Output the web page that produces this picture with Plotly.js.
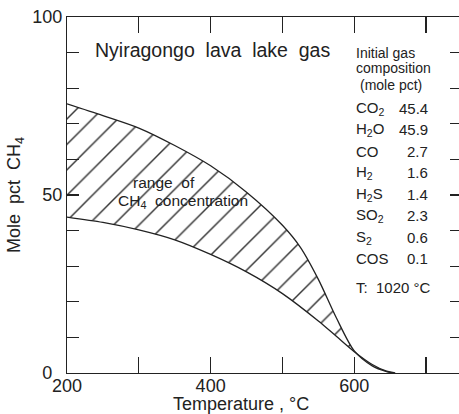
<!DOCTYPE html>
<html>
<head>
<meta charset="utf-8">
<script src="https://cdn.plot.ly/plotly-3.0.1.min.js"></script>
<style>
html, body { margin: 0; padding: 0; overflow: hidden; background: #ffffff; }
#chart { width: 463px; height: 414px; }
</style>
</head>
<body>
<div id="chart"></div>
<script>
// Upper boundary of CH4 range (T in °C, mole pct CH4)
const upperT = [200, 250, 300, 350, 400, 450, 500, 525, 550, 575, 600, 625, 645, 655];
const upperCH4 = [75.6, 72.3, 68.8, 63.9, 58.2, 50.8, 41.5, 35.3, 26.3, 15.5, 6.2, 2.0, 0.4, 0];
// Lower boundary of CH4 range
const lowerT = [200, 250, 300, 350, 400, 450, 500, 550, 575, 600, 625, 645, 657];
const lowerCH4 = [43.8, 42.3, 40.2, 37.4, 33.3, 28.4, 22.3, 14.6, 10.3, 6.0, 2.4, 0.5, 0];

// Initial gas composition (mole pct)
const gases = ['CO<sub>2</sub>', 'H<sub>2</sub>O', 'CO', 'H<sub>2</sub>', 'H<sub>2</sub>S', 'SO<sub>2</sub>', 'S<sub>2</sub>', 'COS'];
const gasPct = [45.4, 45.9, 2.7, 1.6, 1.4, 2.3, 0.6, 0.1];
const headingLines = ['Initial gas', 'composition', '(mole pct)'];

const xTickVals = [200, 300, 400, 500, 600, 700];
const xTickText = ['200', '', '400', '', '600', ''];
const yTickVals = [0, 10, 20, 30, 40, 50, 60, 70, 80, 90, 100];
const yTickText = ['0\u2007', '', '', '', '', '50', '', '', '', '', '100'];

const FONT = 'Liberation Sans, Arial, sans-serif';
const INK = '#222222';

const traces = [
  {
    x: lowerT, y: lowerCH4, mode: 'lines', type: 'scatter',
    line: {color: INK, width: 1.3, shape: 'spline', smoothing: 0.8},
    hoverinfo: 'skip', showlegend: false
  },
  {
    x: upperT, y: upperCH4, mode: 'lines', type: 'scatter',
    line: {color: INK, width: 1.3, shape: 'spline', smoothing: 0.8},
    fill: 'tonexty',
    fillcolor: 'rgba(255,255,255,0)',
    fillpattern: {shape: '/', size: 18, solidity: 0.08, fgcolor: '#333333', bgcolor: 'rgba(255,255,255,0)'},
    hoverinfo: 'skip', showlegend: false
  }
];

const annotations = [];
annotations.push({x: 236, y: 90.7, xref: 'x', yref: 'y', text: 'Nyiragongo \u00a0lava \u00a0lake \u00a0gas',
  showarrow: false, xanchor: 'left', yanchor: 'middle', font: {family: FONT, size: 19.5, color: INK}});
annotations.push({x: 335, y: 53.4, xref: 'x', yref: 'y', text: 'range \u00a0of',
  showarrow: false, xanchor: 'center', yanchor: 'middle', font: {family: FONT, size: 15.5, color: INK}});
annotations.push({x: 362, y: 48.3, xref: 'x', yref: 'y', text: 'CH<sub>4</sub> \u00a0concentration',
  showarrow: false, xanchor: 'center', yanchor: 'middle', font: {family: FONT, size: 15.5, color: INK}});
const headY = [89.9, 85.6, 80.9];
const headX = [600, 600, 605];
headingLines.forEach((t, i) => {
  annotations.push({x: headX[i], y: headY[i], xref: 'x', yref: 'y', text: t, showarrow: false,
    xanchor: 'left', yanchor: 'middle', font: {family: FONT, size: 14, color: INK}});
});
gases.forEach((g, i) => {
  const yy = 74.4 - i * 6.05;
  annotations.push({x: 600, y: yy, xref: 'x', yref: 'y', text: g, showarrow: false,
    xanchor: 'left', yanchor: 'middle', font: {family: FONT, size: 15, color: INK}});
  annotations.push({x: 705, y: yy, xref: 'x', yref: 'y', text: gasPct[i].toFixed(1), showarrow: false,
    xanchor: 'right', yanchor: 'middle', font: {family: FONT, size: 15, color: INK}});
});
annotations.push({x: 600, y: 23.9, xref: 'x', yref: 'y', text: 'T: \u00a01020 °C', showarrow: false,
  xanchor: 'left', yanchor: 'middle', font: {family: FONT, size: 15, color: INK}});
annotations.push({x: 442, y: -0.086, xref: 'x', yref: 'paper', text: 'Temperature , °C', showarrow: false,
  xanchor: 'center', yanchor: 'middle', font: {family: FONT, size: 18, color: INK}});

const layout = {
  width: 463, height: 414,
  margin: {l: 67, r: 1, t: 17, b: 41, pad: 0},
  paper_bgcolor: '#ffffff', plot_bgcolor: '#ffffff',
  font: {family: FONT, color: INK, size: 18},
  showlegend: false,
  xaxis: {
    range: [200, 750], tickmode: 'array', tickvals: xTickVals, ticktext: xTickText,
    ticks: 'inside', ticklen: 16, tickwidth: 1.2, tickcolor: INK,
    showline: true, linecolor: INK, linewidth: 1.2, mirror: 'ticks',
    showgrid: false, zeroline: false, tickfont: {family: FONT, size: 18, color: INK},
    ticklabelstandoff: -4,
    fixedrange: true
  },
  yaxis: {
    range: [0, 100], tickmode: 'array', tickvals: yTickVals, ticktext: yTickText,
    ticks: 'inside', ticklen: 12, tickwidth: 1.2, tickcolor: INK,
    showline: true, linecolor: INK, linewidth: 1.2, mirror: 'ticks',
    showgrid: false, zeroline: false, tickfont: {family: FONT, size: 18, color: INK},
    title: {text: 'Mole \u00a0pct \u00a0CH<sub>4</sub>', font: {family: FONT, size: 18, color: INK}, standoff: 6},
    automargin: false, fixedrange: true
  },
  annotations: annotations
};

Plotly.newPlot('chart', traces, layout, {displayModeBar: false, staticPlot: true});
</script>
</body>
</html>
